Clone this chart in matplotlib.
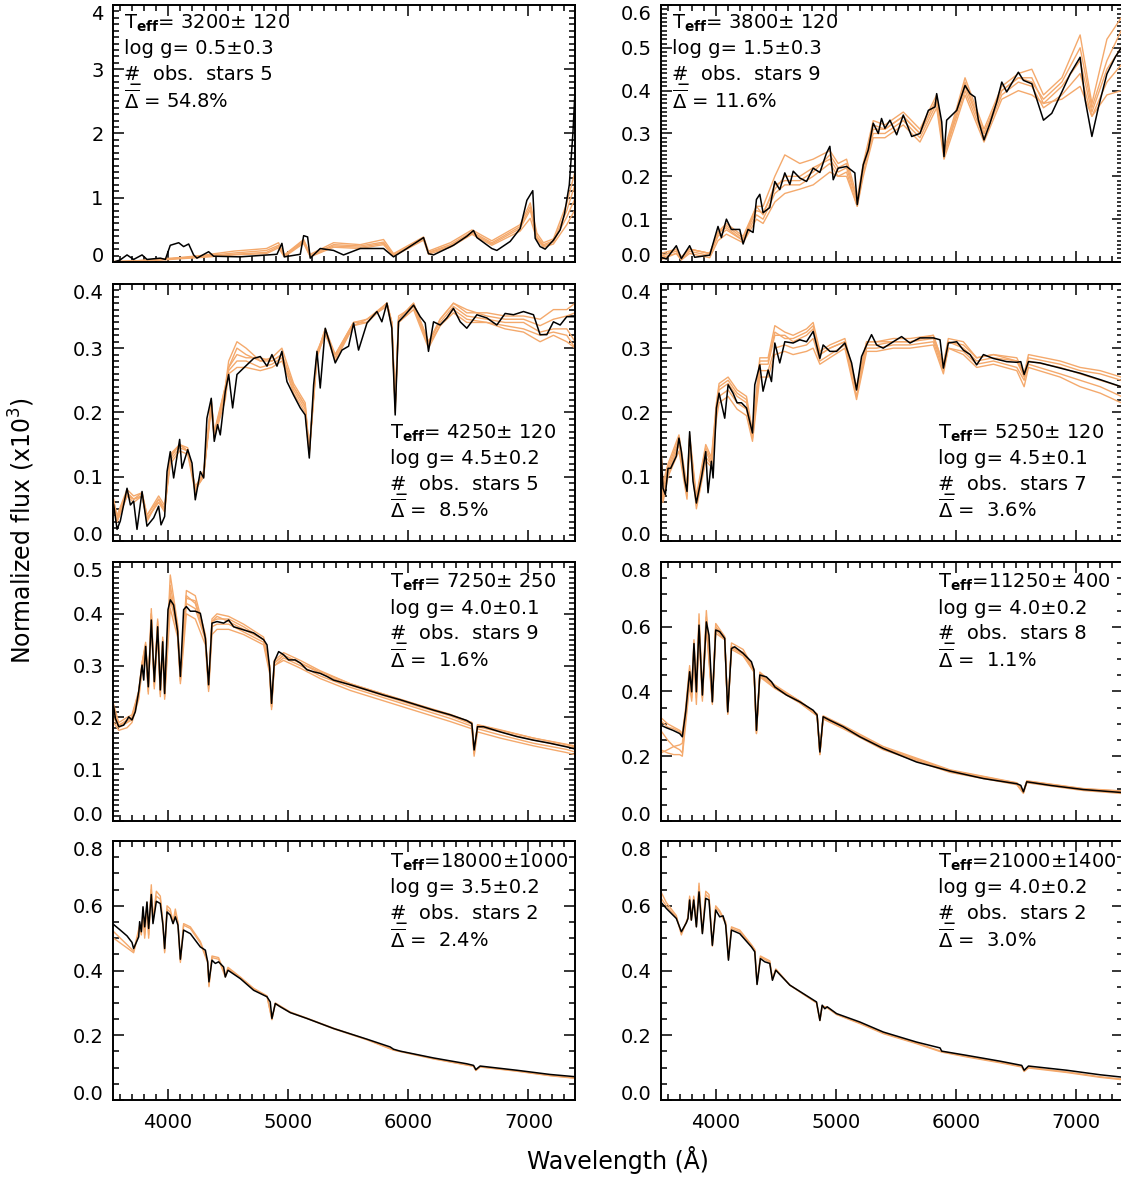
import numpy as np
import matplotlib.pyplot as plt
from matplotlib.ticker import MultipleLocator

plt.rcParams['font.family'] = ['DejaVu Sans']
plt.rcParams['mathtext.fontset'] = 'dejavusans'

# ---- panel A : Teff 3200 -------------------------------------------------
a_wl = [3548, 3600, 3659, 3714, 3784, 3825, 3936, 3978, 4019, 4089,
        4130, 4172, 4213, 4241, 4338, 4380, 4602, 4907, 4948, 4968,
        5101, 5129, 5162, 5184, 5267, 5378, 5461, 5600, 5794, 5877,
        5988, 6127, 6168, 6210, 6376, 6487, 6543, 6571, 6695, 6737,
        6848, 6931, 6987, 7036, 7056, 7097, 7139, 7208, 7264, 7300,
        7340, 7370, 7390]
a_flux = [0.00, 0.03, 0.11, 0.04, 0.11, 0.04, 0.06, 0.04, 0.26, 0.30,
          0.24, 0.28, 0.11, 0.06, 0.16, 0.09, 0.08, 0.12, 0.29, 0.08,
          0.12, 0.41, 0.39, 0.06, 0.21, 0.18, 0.11, 0.21, 0.21, 0.08,
          0.21, 0.38, 0.13, 0.11, 0.26, 0.40, 0.49, 0.38, 0.21, 0.18,
          0.32, 0.52, 0.96, 1.11, 0.37, 0.24, 0.20, 0.34, 0.50, 0.75,
          1.20, 2.00, 2.75]
a_obs_wl = [3550, 3750, 3950, 4100, 4270, 4550, 4820, 4920, 4968, 5129,
            5184, 5378, 5600, 5794, 5877, 6127, 6168, 6350, 6530, 6695,
            6930, 7015, 7070, 7125, 7208, 7319, 7395]
a_stars = [
    [0.00, 0.02, 0.05, 0.07, 0.10, 0.17, 0.21, 0.30, 0.11, 0.35, 0.12, 0.30, 0.27, 0.35,
     0.13, 0.39, 0.17, 0.30, 0.50, 0.33, 0.58, 0.92, 0.45, 0.30, 0.36, 0.91, 1.46],
    [0.00, 0.02, 0.04, 0.06, 0.09, 0.14, 0.18, 0.26, 0.10, 0.33, 0.10, 0.27, 0.25, 0.31,
     0.11, 0.37, 0.15, 0.27, 0.47, 0.30, 0.55, 0.86, 0.40, 0.27, 0.33, 0.80, 1.25],
    [0.01, 0.02, 0.04, 0.06, 0.08, 0.12, 0.15, 0.24, 0.09, 0.31, 0.09, 0.25, 0.23, 0.29,
     0.10, 0.36, 0.14, 0.25, 0.45, 0.28, 0.52, 0.81, 0.37, 0.25, 0.31, 0.70, 1.02],
    [0.00, 0.01, 0.03, 0.05, 0.07, 0.11, 0.13, 0.22, 0.08, 0.29, 0.08, 0.23, 0.21, 0.27,
     0.09, 0.34, 0.12, 0.23, 0.43, 0.26, 0.48, 0.68, 0.35, 0.23, 0.28, 0.58, 0.84],
]

# ---- panel B : Teff 3800 -------------------------------------------------
b_wl = [3542, 3589, 3672, 3714, 3783, 3825, 3950, 4019, 4047, 4089,
        4130, 4200, 4228, 4269, 4311, 4339, 4367, 4394, 4450, 4492,
        4533, 4575, 4617, 4645, 4700, 4756, 4811, 4867, 4922, 4950,
        4978, 5019, 5089, 5158, 5178, 5228, 5270, 5311, 5353, 5380,
        5408, 5450, 5506, 5561, 5631, 5700, 5770, 5825, 5839, 5881,
        5900, 5922, 6006, 6075, 6117, 6158, 6186, 6233, 6283, 6339,
        6381, 6422, 6478, 6519, 6561, 6631, 6728, 6797, 6881, 6950,
        7033, 7075, 7131, 7186, 7256, 7325, 7375]
b_flux = [0.011, 0.007, 0.038, 0.008, 0.038, 0.011, 0.016, 0.083, 0.057, 0.100,
          0.076, 0.076, 0.042, 0.076, 0.069, 0.146, 0.158, 0.115, 0.127, 0.188,
          0.169, 0.208, 0.181, 0.212, 0.196, 0.188, 0.219, 0.209, 0.254, 0.270,
          0.192, 0.219, 0.223, 0.208, 0.134, 0.227, 0.262, 0.324, 0.300, 0.335,
          0.312, 0.331, 0.297, 0.343, 0.293, 0.300, 0.354, 0.362, 0.393, 0.327,
          0.246, 0.331, 0.354, 0.412, 0.393, 0.385, 0.331, 0.285, 0.324, 0.374,
          0.420, 0.397, 0.424, 0.443, 0.424, 0.416, 0.331, 0.347, 0.397, 0.439,
          0.478, 0.378, 0.293, 0.362, 0.439, 0.478, 0.500]
b_obs_wl = [3542, 3672, 3714, 3783, 3950, 4019, 4089, 4228, 4339, 4394,
            4492, 4575, 4700, 4811, 4950, 5019, 5089, 5178, 5228, 5311,
            5408, 5561, 5700, 5839, 5900, 6006, 6075, 6233, 6381, 6519,
            6631, 6728, 6881, 7033, 7131, 7256, 7375]
b_stars = [
    [0.02, 0.03, 0.012, 0.03, 0.02, 0.07, 0.09, 0.06, 0.13, 0.13, 0.20, 0.25, 0.23,
     0.24, 0.26, 0.23, 0.24, 0.15, 0.23, 0.33, 0.32, 0.35, 0.31, 0.39, 0.26, 0.36,
     0.43, 0.31, 0.41, 0.44, 0.45, 0.39, 0.43, 0.53, 0.37, 0.52, 0.57],
    [0.015, 0.025, 0.01, 0.03, 0.02, 0.065, 0.085, 0.055, 0.12, 0.115, 0.17, 0.20, 0.20,
     0.22, 0.24, 0.21, 0.22, 0.14, 0.22, 0.31, 0.31, 0.34, 0.30, 0.38, 0.25, 0.35,
     0.41, 0.30, 0.40, 0.43, 0.43, 0.37, 0.41, 0.47, 0.35, 0.45, 0.50],
    [0.01, 0.02, 0.005, 0.025, 0.015, 0.06, 0.075, 0.05, 0.11, 0.10, 0.16, 0.18, 0.18,
     0.20, 0.23, 0.20, 0.21, 0.13, 0.21, 0.30, 0.30, 0.33, 0.29, 0.37, 0.25, 0.34,
     0.40, 0.29, 0.39, 0.42, 0.41, 0.36, 0.39, 0.44, 0.34, 0.42, 0.46],
    [0.005, 0.02, 0.005, 0.02, 0.01, 0.05, 0.065, 0.045, 0.10, 0.09, 0.14, 0.16, 0.17,
     0.18, 0.21, 0.20, 0.20, 0.13, 0.20, 0.29, 0.29, 0.32, 0.28, 0.36, 0.24, 0.33,
     0.39, 0.28, 0.38, 0.40, 0.39, 0.37, 0.38, 0.41, 0.34, 0.39, 0.40],
    [0.012, 0.03, 0.01, 0.03, 0.02, 0.07, 0.08, 0.05, 0.13, 0.11, 0.18, 0.19, 0.19,
     0.21, 0.25, 0.22, 0.23, 0.14, 0.22, 0.32, 0.31, 0.34, 0.30, 0.38, 0.25, 0.35,
     0.42, 0.30, 0.40, 0.43, 0.42, 0.38, 0.42, 0.50, 0.36, 0.47, 0.54],
]

# ---- panel C : Teff 4250 -------------------------------------------------
c_wl = [3548, 3576, 3603, 3659, 3687, 3714, 3742, 3784, 3825, 3881,
        3922, 3942, 3972, 3992, 4019, 4047, 4097, 4116, 4164, 4200,
        4227, 4269, 4297, 4324, 4360, 4385, 4413, 4435, 4477, 4505,
        4538, 4574, 4629, 4713, 4768, 4824, 4865, 4907, 4948, 4990,
        5045, 5101, 5142, 5176, 5212, 5240, 5267, 5309, 5350, 5392,
        5448, 5503, 5545, 5586, 5656, 5739, 5780, 5822, 5863, 5891,
        5919, 5974, 6044, 6099, 6141, 6168, 6210, 6265, 6321, 6376,
        6432, 6487, 6571, 6654, 6737, 6806, 6876, 6959, 7042, 7097,
        7153, 7208, 7264, 7319, 7389]
c_flux = [0.056, 0.018, 0.031, 0.082, 0.056, 0.062, 0.018, 0.077, 0.023, 0.036,
          0.054, 0.025, 0.038, 0.108, 0.139, 0.098, 0.158, 0.113, 0.142, 0.121,
          0.064, 0.108, 0.098, 0.191, 0.222, 0.155, 0.181, 0.165, 0.233, 0.259,
          0.207, 0.259, 0.269, 0.284, 0.287, 0.272, 0.290, 0.272, 0.295, 0.248,
          0.227, 0.207, 0.196, 0.129, 0.243, 0.295, 0.238, 0.331, 0.305, 0.277,
          0.297, 0.303, 0.339, 0.297, 0.339, 0.357, 0.341, 0.370, 0.331, 0.196,
          0.341, 0.352, 0.367, 0.349, 0.339, 0.295, 0.341, 0.336, 0.347, 0.362,
          0.341, 0.331, 0.352, 0.347, 0.336, 0.354, 0.352, 0.357, 0.352, 0.321,
          0.321, 0.341, 0.336, 0.349, 0.349]
c_obs_wl = [3548, 3576, 3659, 3714, 3784, 3825, 3922, 3972, 4019, 4097,
            4164, 4227, 4297, 4360, 4385, 4477, 4505, 4574, 4650, 4768,
            4865, 4948, 5045, 5142, 5176, 5240, 5309, 5392, 5545, 5656,
            5822, 5863, 5891, 5919, 6044, 6168, 6265, 6376, 6487, 6654,
            6806, 6959, 7097, 7208, 7319, 7389]
c_stars = [
    [0.065, 0.035, 0.075, 0.065, 0.07, 0.035, 0.06, 0.045, 0.13, 0.15, 0.14, 0.08,
     0.10, 0.22, 0.17, 0.24, 0.27, 0.30, 0.29, 0.28, 0.28, 0.29, 0.24, 0.21, 0.14,
     0.29, 0.32, 0.29, 0.34, 0.34, 0.37, 0.34, 0.21, 0.345, 0.37, 0.31, 0.34, 0.365,
     0.35, 0.345, 0.34, 0.34, 0.325, 0.33, 0.33, 0.31],
    [0.05, 0.03, 0.07, 0.06, 0.07, 0.03, 0.065, 0.05, 0.12, 0.14, 0.135, 0.075,
     0.11, 0.21, 0.16, 0.23, 0.265, 0.28, 0.28, 0.27, 0.275, 0.285, 0.23, 0.20, 0.135,
     0.285, 0.325, 0.28, 0.335, 0.345, 0.365, 0.335, 0.20, 0.34, 0.36, 0.30, 0.335,
     0.36, 0.345, 0.34, 0.335, 0.33, 0.32, 0.325, 0.32, 0.30],
    [0.06, 0.04, 0.08, 0.07, 0.075, 0.04, 0.07, 0.055, 0.125, 0.145, 0.14, 0.085,
     0.105, 0.205, 0.16, 0.22, 0.26, 0.27, 0.27, 0.265, 0.27, 0.28, 0.235, 0.205, 0.14,
     0.29, 0.33, 0.285, 0.34, 0.34, 0.37, 0.34, 0.21, 0.35, 0.365, 0.305, 0.345, 0.37,
     0.355, 0.355, 0.35, 0.35, 0.345, 0.36, 0.36, 0.37],
    [0.055, 0.03, 0.07, 0.065, 0.07, 0.035, 0.06, 0.05, 0.13, 0.15, 0.14, 0.08,
     0.10, 0.215, 0.165, 0.235, 0.27, 0.29, 0.285, 0.285, 0.28, 0.29, 0.24, 0.21, 0.14,
     0.29, 0.33, 0.29, 0.34, 0.345, 0.37, 0.34, 0.215, 0.345, 0.37, 0.31, 0.345, 0.37,
     0.36, 0.35, 0.345, 0.345, 0.335, 0.345, 0.35, 0.355],
    [0.06, 0.035, 0.075, 0.065, 0.075, 0.04, 0.065, 0.05, 0.135, 0.15, 0.145, 0.08,
     0.105, 0.22, 0.165, 0.24, 0.28, 0.31, 0.30, 0.28, 0.285, 0.30, 0.245, 0.215, 0.14,
     0.295, 0.325, 0.285, 0.335, 0.34, 0.37, 0.335, 0.21, 0.34, 0.365, 0.305, 0.335,
     0.355, 0.34, 0.34, 0.33, 0.325, 0.31, 0.32, 0.31, 0.30],
]

# ---- panel D : Teff 5250 -------------------------------------------------
d_wl = [3542, 3561, 3581, 3603, 3625, 3672, 3694, 3714, 3742, 3761,
        3783, 3811, 3839, 3881, 3917, 3936, 3964, 3978, 4006, 4028,
        4075, 4103, 4144, 4178, 4214, 4256, 4306, 4325, 4367, 4394,
        4436, 4464, 4492, 4533, 4575, 4644, 4700, 4756, 4811, 4867,
        4894, 4950, 5006, 5075, 5131, 5172, 5214, 5256, 5297, 5339,
        5394, 5478, 5547, 5617, 5700, 5811, 5867, 5895, 5936, 6006,
        6061, 6117, 6172, 6228, 6311, 6422, 6506, 6539, 6567, 6603,
        6700, 6867, 7033, 7200, 7375]
d_flux = [0.150, 0.082, 0.072, 0.113, 0.113, 0.132, 0.160, 0.139, 0.095, 0.077,
          0.170, 0.093, 0.059, 0.098, 0.139, 0.075, 0.124, 0.098, 0.207, 0.230,
          0.191, 0.243, 0.230, 0.215, 0.215, 0.207, 0.168, 0.243, 0.274, 0.233,
          0.266, 0.248, 0.308, 0.277, 0.310, 0.308, 0.313, 0.310, 0.326, 0.284,
          0.305, 0.295, 0.295, 0.308, 0.277, 0.235, 0.287, 0.305, 0.321, 0.305,
          0.300, 0.310, 0.318, 0.308, 0.316, 0.316, 0.313, 0.269, 0.308, 0.310,
          0.297, 0.290, 0.274, 0.290, 0.284, 0.279, 0.278, 0.279, 0.259, 0.279,
          0.277, 0.269, 0.261, 0.251, 0.240]
d_obs_wl = [3542, 3561, 3603, 3694, 3761, 3783, 3839, 3917, 3964, 4006,
            4028, 4103, 4178, 4256, 4306, 4367, 4436, 4492, 4575, 4644,
            4756, 4811, 4867, 4950, 5075, 5172, 5256, 5339, 5478, 5617,
            5811, 5895, 5936, 6061, 6172, 6311, 6506, 6567, 6603, 6867,
            7033, 7200, 7375]
d_stars = [
    [0.155, 0.09, 0.12, 0.165, 0.085, 0.165, 0.07, 0.15, 0.13, 0.215, 0.245, 0.255,
     0.235, 0.225, 0.17, 0.285, 0.285, 0.335, 0.325, 0.32, 0.33, 0.34, 0.295, 0.305,
     0.315, 0.24, 0.31, 0.31, 0.315, 0.315, 0.32, 0.275, 0.315, 0.31, 0.285, 0.29,
     0.285, 0.26, 0.29, 0.28, 0.27, 0.265, 0.255],
    [0.14, 0.075, 0.11, 0.155, 0.075, 0.16, 0.06, 0.14, 0.12, 0.205, 0.235, 0.245,
     0.225, 0.215, 0.165, 0.275, 0.275, 0.32, 0.32, 0.31, 0.32, 0.33, 0.29, 0.30,
     0.31, 0.235, 0.305, 0.305, 0.31, 0.31, 0.315, 0.27, 0.31, 0.30, 0.28, 0.285,
     0.28, 0.255, 0.28, 0.27, 0.26, 0.25, 0.24],
    [0.12, 0.065, 0.105, 0.15, 0.07, 0.155, 0.055, 0.13, 0.12, 0.20, 0.225, 0.235,
     0.215, 0.205, 0.16, 0.265, 0.265, 0.30, 0.305, 0.30, 0.305, 0.315, 0.28, 0.29,
     0.305, 0.225, 0.30, 0.30, 0.305, 0.305, 0.31, 0.265, 0.30, 0.295, 0.275, 0.28,
     0.27, 0.25, 0.275, 0.26, 0.25, 0.24, 0.225],
    [0.10, 0.06, 0.10, 0.14, 0.065, 0.15, 0.05, 0.125, 0.115, 0.19, 0.215, 0.225,
     0.205, 0.195, 0.155, 0.255, 0.255, 0.29, 0.295, 0.29, 0.295, 0.30, 0.275, 0.285,
     0.30, 0.22, 0.295, 0.295, 0.30, 0.30, 0.305, 0.26, 0.30, 0.29, 0.27, 0.275,
     0.265, 0.24, 0.27, 0.255, 0.24, 0.23, 0.215],
    [0.15, 0.08, 0.115, 0.16, 0.08, 0.16, 0.065, 0.145, 0.125, 0.21, 0.24, 0.25,
     0.23, 0.22, 0.165, 0.28, 0.28, 0.325, 0.315, 0.315, 0.325, 0.335, 0.29, 0.30,
     0.31, 0.235, 0.31, 0.31, 0.31, 0.31, 0.32, 0.275, 0.31, 0.305, 0.285, 0.29,
     0.28, 0.26, 0.285, 0.275, 0.265, 0.26, 0.25],
]

# ---- panel E : Teff 7250 -------------------------------------------------
e_wl = [3548, 3562, 3590, 3631, 3659, 3673, 3700, 3728, 3756, 3784,
        3798, 3814, 3836, 3861, 3886, 3914, 3936, 3956, 3972, 4000,
        4019, 4047, 4080, 4103, 4130, 4153, 4186, 4227, 4269, 4311,
        4338, 4366, 4408, 4463, 4505, 4546, 4629, 4713, 4796, 4824,
        4846, 4862, 4885, 4921, 4962, 5004, 5059, 5101, 5156, 5212,
        5267, 5323, 5378, 5517, 5656, 5794, 5933, 6071, 6210, 6349,
        6487, 6529, 6548, 6576, 6626, 6765, 6903, 7042, 7180, 7319,
        7389]
e_flux = [0.221, 0.198, 0.182, 0.185, 0.195, 0.201, 0.195, 0.211, 0.250, 0.301,
          0.272, 0.337, 0.259, 0.388, 0.269, 0.375, 0.253, 0.346, 0.246, 0.408,
          0.427, 0.417, 0.366, 0.279, 0.408, 0.414, 0.405, 0.405, 0.401, 0.353,
          0.263, 0.382, 0.385, 0.382, 0.388, 0.375, 0.369, 0.363, 0.350, 0.340,
          0.295, 0.227, 0.308, 0.327, 0.321, 0.311, 0.311, 0.305, 0.292, 0.288,
          0.285, 0.279, 0.272, 0.263, 0.253, 0.243, 0.234, 0.224, 0.214, 0.205,
          0.194, 0.188, 0.137, 0.182, 0.182, 0.172, 0.163, 0.156, 0.150, 0.143,
          0.139]
e_obs_wl = [3548, 3590, 3659, 3700, 3756, 3784, 3814, 3836, 3861, 3886,
            3914, 3936, 3956, 3972, 4019, 4080, 4103, 4153, 4227, 4311,
            4338, 4366, 4408, 4505, 4629, 4796, 4846, 4862, 4885, 4962,
            5101, 5267, 5517, 5794, 6071, 6349, 6529, 6548, 6576, 6765,
            7042, 7319, 7389]
e_stars = [
    [0.225, 0.19, 0.20, 0.205, 0.25, 0.305, 0.345, 0.26, 0.41, 0.27, 0.39, 0.26,
     0.355, 0.25, 0.475, 0.38, 0.28, 0.445, 0.435, 0.36, 0.265, 0.39, 0.40, 0.395,
     0.38, 0.355, 0.30, 0.225, 0.31, 0.325, 0.31, 0.29, 0.265, 0.245, 0.225, 0.205,
     0.19, 0.135, 0.185, 0.175, 0.16, 0.148, 0.145],
    [0.215, 0.185, 0.19, 0.20, 0.245, 0.30, 0.34, 0.255, 0.40, 0.265, 0.385, 0.25,
     0.35, 0.245, 0.455, 0.375, 0.275, 0.435, 0.42, 0.355, 0.26, 0.385, 0.39, 0.39,
     0.375, 0.35, 0.295, 0.22, 0.305, 0.32, 0.305, 0.285, 0.262, 0.242, 0.222, 0.203,
     0.187, 0.133, 0.182, 0.172, 0.156, 0.144, 0.14],
    [0.20, 0.18, 0.19, 0.195, 0.24, 0.295, 0.33, 0.25, 0.39, 0.26, 0.37, 0.245,
     0.34, 0.24, 0.43, 0.365, 0.27, 0.42, 0.41, 0.35, 0.255, 0.375, 0.38, 0.38,
     0.365, 0.345, 0.29, 0.22, 0.30, 0.315, 0.30, 0.28, 0.258, 0.238, 0.218, 0.198,
     0.183, 0.13, 0.178, 0.166, 0.15, 0.138, 0.133],
    [0.19, 0.175, 0.18, 0.19, 0.235, 0.29, 0.325, 0.245, 0.38, 0.255, 0.36, 0.24,
     0.335, 0.235, 0.41, 0.355, 0.265, 0.40, 0.39, 0.34, 0.25, 0.36, 0.37, 0.37,
     0.36, 0.34, 0.285, 0.215, 0.30, 0.31, 0.295, 0.275, 0.252, 0.232, 0.212, 0.192,
     0.178, 0.125, 0.172, 0.16, 0.145, 0.132, 0.128],
    [0.21, 0.185, 0.195, 0.20, 0.25, 0.305, 0.34, 0.26, 0.40, 0.27, 0.38, 0.255,
     0.35, 0.25, 0.44, 0.37, 0.275, 0.43, 0.425, 0.355, 0.26, 0.385, 0.395, 0.385,
     0.37, 0.35, 0.30, 0.225, 0.305, 0.32, 0.305, 0.288, 0.265, 0.245, 0.225, 0.206,
     0.19, 0.135, 0.186, 0.176, 0.16, 0.147, 0.143],
]

# ---- panel F : Teff 11250 ------------------------------------------------
f_wl = [3542, 3589, 3644, 3700, 3722, 3750, 3769, 3783, 3800, 3819,
        3839, 3861, 3889, 3922, 3944, 3972, 4000, 4033, 4075, 4100,
        4131, 4158, 4228, 4297, 4319, 4339, 4367, 4422, 4464, 4492,
        4589, 4700, 4811, 4844, 4867, 4894, 4950, 5061, 5200, 5394,
        5672, 5950, 6228, 6506, 6539, 6561, 6589, 6783, 7061, 7375]
f_flux = [0.296, 0.288, 0.280, 0.270, 0.260, 0.337, 0.409, 0.461, 0.399, 0.548,
          0.399, 0.605, 0.389, 0.615, 0.574, 0.368, 0.590, 0.585, 0.564, 0.337,
          0.533, 0.538, 0.518, 0.492, 0.466, 0.280, 0.451, 0.445, 0.430, 0.414,
          0.389, 0.368, 0.342, 0.327, 0.213, 0.322, 0.311, 0.291, 0.260, 0.224,
          0.182, 0.154, 0.131, 0.115, 0.110, 0.090, 0.121, 0.110, 0.097, 0.088]
f_obs_wl = [3542, 3600, 3650, 3700, 3722, 3750, 3783, 3800, 3819, 3839,
            3861, 3889, 3922, 3972, 4000, 4075, 4100, 4131, 4228, 4319,
            4339, 4367, 4492, 4700, 4844, 4867, 4894, 5061, 5394, 5950,
            6506, 6561, 6589, 7061, 7375]
f_stars = [
    [0.32, 0.30, 0.29, 0.28, 0.27, 0.35, 0.48, 0.41, 0.56, 0.41, 0.64, 0.40, 0.65,
     0.38, 0.61, 0.57, 0.34, 0.55, 0.53, 0.47, 0.28, 0.46, 0.42, 0.37, 0.33, 0.21,
     0.325, 0.295, 0.23, 0.158, 0.118, 0.09, 0.124, 0.10, 0.093],
    [0.31, 0.29, 0.285, 0.275, 0.265, 0.34, 0.47, 0.40, 0.55, 0.40, 0.62, 0.39, 0.63,
     0.37, 0.60, 0.565, 0.335, 0.54, 0.52, 0.465, 0.28, 0.455, 0.415, 0.37, 0.33, 0.21,
     0.32, 0.29, 0.225, 0.155, 0.116, 0.09, 0.122, 0.098, 0.09],
    [0.28, 0.25, 0.23, 0.235, 0.24, 0.33, 0.45, 0.39, 0.53, 0.39, 0.60, 0.385, 0.61,
     0.365, 0.59, 0.56, 0.33, 0.535, 0.515, 0.46, 0.27, 0.45, 0.41, 0.365, 0.325, 0.205,
     0.32, 0.29, 0.225, 0.153, 0.114, 0.088, 0.12, 0.096, 0.087],
    [0.22, 0.21, 0.205, 0.205, 0.20, 0.30, 0.42, 0.37, 0.50, 0.36, 0.58, 0.37, 0.60,
     0.36, 0.58, 0.56, 0.33, 0.53, 0.51, 0.46, 0.27, 0.445, 0.41, 0.365, 0.325, 0.205,
     0.315, 0.285, 0.22, 0.15, 0.112, 0.085, 0.118, 0.094, 0.085],
    [0.21, 0.22, 0.23, 0.22, 0.21, 0.32, 0.44, 0.38, 0.52, 0.38, 0.61, 0.38, 0.62,
     0.37, 0.60, 0.565, 0.34, 0.54, 0.52, 0.465, 0.275, 0.455, 0.415, 0.37, 0.33, 0.21,
     0.32, 0.29, 0.225, 0.156, 0.117, 0.09, 0.123, 0.099, 0.092],
]

# ---- panel G : Teff 18000 ------------------------------------------------
g_wl = [3548, 3603, 3659, 3700, 3714, 3756, 3764, 3778, 3792, 3806,
        3825, 3839, 3861, 3875, 3903, 3936, 3958, 3972, 3992, 4019,
        4042, 4061, 4083, 4103, 4130, 4186, 4269, 4311, 4330, 4341,
        4366, 4394, 4421, 4463, 4477, 4499, 4602, 4713, 4824, 4851,
        4865, 4893, 4935, 5018, 5156, 5378, 5656, 5849, 5877, 5933,
        6210, 6487, 6543, 6562, 6598, 6903, 7180, 7389]
g_flux = [0.542, 0.525, 0.507, 0.487, 0.468, 0.504, 0.551, 0.520, 0.597, 0.535,
          0.612, 0.530, 0.635, 0.545, 0.614, 0.607, 0.540, 0.468, 0.581, 0.571,
          0.545, 0.566, 0.540, 0.435, 0.525, 0.514, 0.473, 0.463, 0.427, 0.365,
          0.432, 0.422, 0.427, 0.411, 0.380, 0.401, 0.375, 0.339, 0.319, 0.303,
          0.252, 0.298, 0.288, 0.270, 0.252, 0.221, 0.188, 0.164, 0.157, 0.151,
          0.130, 0.112, 0.107, 0.094, 0.105, 0.092, 0.079, 0.072]
g_obs_wl = [3548, 3603, 3659, 3714, 3764, 3778, 3792, 3806, 3825, 3839,
            3861, 3875, 3903, 3936, 3958, 3972, 3992, 4019, 4042, 4061,
            4083, 4103, 4130, 4186, 4269, 4330, 4341, 4366, 4421, 4477,
            4499, 4602, 4713, 4824, 4865, 4893, 5018, 5156, 5378, 5656,
            5877, 6210, 6543, 6562, 6598, 6903, 7180, 7389]
g_stars = [
    [0.52, 0.50, 0.48, 0.46, 0.54, 0.52, 0.58, 0.51, 0.61, 0.51, 0.665, 0.56, 0.645,
     0.63, 0.55, 0.46, 0.60, 0.59, 0.55, 0.59, 0.55, 0.43, 0.545, 0.535, 0.49, 0.43,
     0.355, 0.445, 0.44, 0.385, 0.41, 0.38, 0.345, 0.322, 0.248, 0.30, 0.272, 0.253,
     0.222, 0.187, 0.155, 0.128, 0.105, 0.092, 0.103, 0.09, 0.076, 0.068],
    [0.50, 0.485, 0.47, 0.455, 0.53, 0.51, 0.57, 0.50, 0.60, 0.50, 0.65, 0.55, 0.63,
     0.62, 0.54, 0.455, 0.59, 0.58, 0.545, 0.58, 0.545, 0.425, 0.54, 0.53, 0.485,
     0.425, 0.35, 0.44, 0.435, 0.38, 0.405, 0.378, 0.343, 0.32, 0.25, 0.298, 0.27,
     0.252, 0.22, 0.186, 0.154, 0.127, 0.104, 0.091, 0.102, 0.089, 0.075, 0.067],
]

# ---- panel H : Teff 21000 ------------------------------------------------
h_wl = [3542, 3589, 3672, 3714, 3756, 3769, 3783, 3797, 3817, 3839,
        3861, 3889, 3917, 3944, 3972, 4000, 4033, 4061, 4083, 4106,
        4131, 4200, 4297, 4325, 4344, 4372, 4408, 4450, 4472, 4500,
        4617, 4728, 4839, 4867, 4886, 4908, 4928, 5006, 5200, 5395,
        5672, 5867, 5881, 6089, 6367, 6547, 6567, 6603, 6922, 7200,
        7375]
h_flux = [0.612, 0.592, 0.561, 0.520, 0.548, 0.561, 0.618, 0.556, 0.618, 0.535,
          0.643, 0.514, 0.623, 0.618, 0.478, 0.587, 0.566, 0.569, 0.540, 0.432,
          0.525, 0.514, 0.473, 0.458, 0.357, 0.437, 0.427, 0.422, 0.370, 0.401,
          0.355, 0.329, 0.303, 0.246, 0.293, 0.282, 0.288, 0.267, 0.241, 0.210,
          0.179, 0.161, 0.151, 0.138, 0.120, 0.107, 0.092, 0.105, 0.092, 0.078,
          0.071]
h_obs_wl = [3542, 3589, 3672, 3714, 3769, 3783, 3797, 3817, 3839, 3861,
            3889, 3917, 3944, 3972, 4000, 4033, 4083, 4106, 4131, 4200,
            4297, 4325, 4344, 4372, 4450, 4472, 4500, 4617, 4728, 4839,
            4867, 4886, 4928, 5006, 5200, 5395, 5672, 5881, 6089, 6367,
            6547, 6567, 6603, 6922, 7200, 7375]
h_stars = [
    [0.645, 0.61, 0.57, 0.51, 0.565, 0.63, 0.56, 0.63, 0.54, 0.67, 0.52, 0.645,
     0.635, 0.48, 0.60, 0.585, 0.55, 0.44, 0.535, 0.525, 0.48, 0.465, 0.36, 0.445,
     0.43, 0.375, 0.405, 0.355, 0.327, 0.30, 0.245, 0.29, 0.285, 0.264, 0.236, 0.205,
     0.174, 0.148, 0.133, 0.115, 0.102, 0.088, 0.099, 0.085, 0.07, 0.063],
    [0.625, 0.60, 0.565, 0.515, 0.56, 0.625, 0.555, 0.625, 0.535, 0.66, 0.515, 0.635,
     0.625, 0.475, 0.595, 0.58, 0.545, 0.435, 0.53, 0.52, 0.478, 0.462, 0.358, 0.442,
     0.425, 0.372, 0.403, 0.355, 0.328, 0.301, 0.247, 0.291, 0.286, 0.265, 0.238,
     0.207, 0.176, 0.15, 0.135, 0.117, 0.104, 0.09, 0.101, 0.087, 0.072, 0.065],
]

# ---- labels -----------------------------------------------------------
teff = ['3200± 120', '3800± 120', '4250± 120', '5250± 120',
        '7250± 250', '11250± 400', '18000±1000', '21000±1400']
logg = ['0.5±0.3', '1.5±0.3', '4.5±0.2', '4.5±0.1',
        '4.0±0.1', '4.0±0.2', '3.5±0.2', '4.0±0.2']
nstars = [5, 9, 5, 7, 9, 8, 2, 2]
delta = ['54.8%', '11.6%', ' 8.5%', ' 3.6%', ' 1.6%', ' 1.1%', ' 2.4%', ' 3.0%']

orange = '#F4A96C'

fig = plt.figure(figsize=(11.21, 11.77), dpi=100)

# axes boxes [left, bottom, width, height] in figure fraction
col_x = [0.1011, 0.5897]
row_y = [(0.7774, 0.2184), (0.5404, 0.2184), (0.3025, 0.2200), (0.0654, 0.2200)]

panels = [
    (a_wl, a_flux, a_obs_wl, a_stars, (0, 4.0), 1.0, 0.1, '%d'),
    (b_wl, b_flux, b_obs_wl, b_stars, (0, 0.6), 0.1, 0.01, '%.1f'),
    (c_wl, c_flux, c_obs_wl, c_stars, (0, 0.4), 0.1, 0.01, '%.1f'),
    (d_wl, d_flux, d_obs_wl, d_stars, (0, 0.4), 0.1, 0.01, '%.1f'),
    (e_wl, e_flux, e_obs_wl, e_stars, (0, 0.5), 0.1, 0.01, '%.1f'),
    (f_wl, f_flux, f_obs_wl, f_stars, (0, 0.8), 0.2, 0.05, '%.1f'),
    (g_wl, g_flux, g_obs_wl, g_stars, (0, 0.8), 0.2, 0.05, '%.1f'),
    (h_wl, h_flux, h_obs_wl, h_stars, (0, 0.8), 0.2, 0.05, '%.1f'),
]

for i, (wl, flux, owl, stars, ylim, major, minor, fmt) in enumerate(panels):
    row, col = i // 2, i % 2
    ax = fig.add_axes([col_x[col], row_y[row][0], 0.4121, row_y[row][1]])

    for s in stars:
        ax.plot(owl, s, color=orange, lw=1.0)
    ax.plot(wl, flux, color='black', lw=1.1)

    ax.set_xlim(3545, 7390)
    ax.set_ylim(*ylim)
    for sp in ax.spines.values():
        sp.set_linewidth(1.4)
    ax.tick_params(which='both', direction='in', top=True, right=True,
                   labelsize=14, width=1.1, pad=7)
    ax.tick_params(which='major', length=8)
    ax.tick_params(which='minor', length=4)
    ax.xaxis.set_minor_locator(MultipleLocator(100))
    ax.yaxis.set_minor_locator(MultipleLocator(minor))
    ax.set_xticks([4000, 5000, 6000, 7000])
    if row == 3:
        ax.set_xticklabels(['4000', '5000', '6000', '7000'])
        ax.tick_params(axis='x', pad=9)
    else:
        ax.set_xticklabels([])
    yt = np.arange(ylim[0], ylim[1] + major / 2, major)
    ax.set_yticks(yt, [fmt % v for v in yt])
    labs = ax.get_yticklabels()
    labs[0].set_va('baseline')
    labs[-1].set_va('top')

    pad = '' if len(teff[i].split('±')[0]) > 4 else ' '
    lines = ['T$_{\\bf eff}$=' + pad + teff[i],
             'log g= ' + logg[i],
             '#\u0332  obs.  stars %d' % nstars[i],
             '$\\overline{\\Delta}$ = ' + delta[i]]
    if row == 0:
        tx, ty = 0.023, [0.930, 0.829, 0.728, 0.626]
    elif row == 1:
        tx, ty = 0.599, [0.420, 0.319, 0.218, 0.121]
    elif row == 2:
        tx, ty = 0.599, [0.923, 0.822, 0.722, 0.622]
    else:
        tx, ty = 0.599, [0.919, 0.819, 0.718, 0.618]
    for txt, yy in zip(lines, ty):
        ax.text(tx, yy, txt, transform=ax.transAxes, fontsize=14,
                ha='left', va='center')

fig.text(618 / 1121, 1 - 1160 / 1177, 'Wavelength (Å)', fontsize=17,
         ha='center', va='center')
fig.text(22 / 1121, 1 - 530 / 1177, 'Normalized flux (x10$^3$)', fontsize=17,
         ha='center', va='center', rotation=90)

fig.savefig('out.png', dpi=100)
